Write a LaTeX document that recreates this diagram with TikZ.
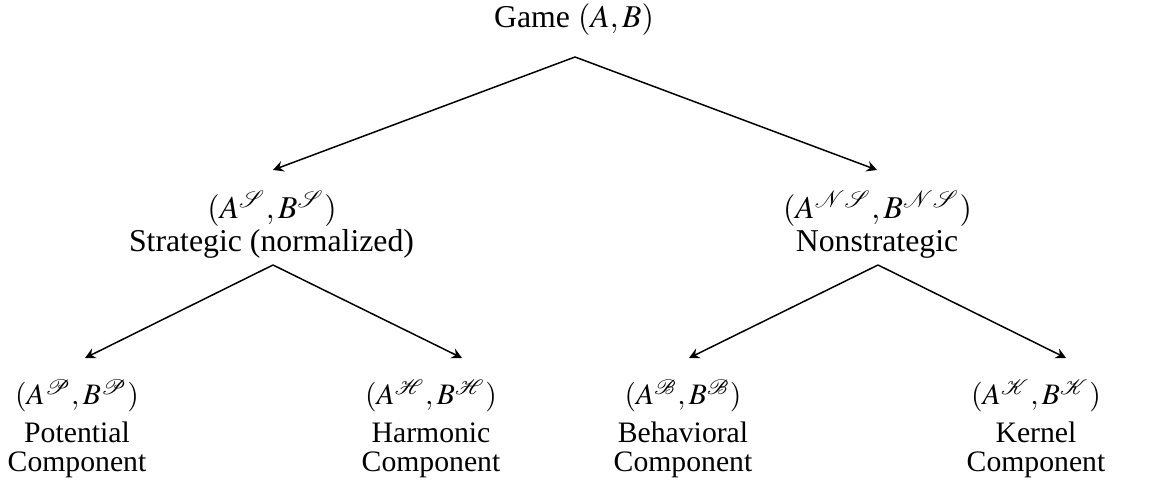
\documentclass[tikz,border=0pt]{standalone}
\usepackage{mathptmx}
\usepackage{mathrsfs}
\usepackage[no-math]{fontspec}
\setmainfont{Liberation Serif}
\usetikzlibrary{arrows.meta}
\tikzset{
  lbl/.style={anchor=base, inner sep=0pt, text height=0pt, text depth=0pt, font=\fontsize{10}{12}\selectfont},
  biglbl/.style={lbl, font=\fontsize{10.7}{12.8}\selectfont},
  conn/.style={-{Stealth[length=3.5pt,width=3.6pt,inset=1.2pt]}, line width=0.5pt}
}
\begin{document}
\begin{tikzpicture}[x=0.3367pt,y=-0.3367pt]
\useasboundingbox (0,0) rectangle (1149,495);
% root
\node[biglbl] (g) at (574,28) {Game $(A,B)$};
% middle level
\node[biglbl] (s1) at (272,219) {$(A^{\mathscr{S}},B^{\mathscr{S}})$};
\node[biglbl] (s2) at (271.5,252) {Strategic (normalized)};
\node[biglbl] (n1) at (877.5,219) {$(A^{\mathscr{N}\mathscr{S}},B^{\mathscr{N}\mathscr{S}})$};
\node[biglbl] (n2) at (877,252) {Nonstrategic};
% bottom level
\node[lbl] (p1) at (77,405) {$(A^{\mathscr{P}},B^{\mathscr{P}})$};
\node[lbl] (p2) at (77,443) {Potential};
\node[lbl] (p3) at (77,472) {Component};
\node[lbl] (h1) at (431,405) {$(A^{\mathscr{H}},B^{\mathscr{H}})$};
\node[lbl] (h2) at (431,443) {Harmonic};
\node[lbl] (h3) at (431,472) {Component};
\node[lbl] (b1) at (683,405) {$(A^{\mathscr{B}},B^{\mathscr{B}})$};
\node[lbl] (b2) at (683,443) {Behavioral};
\node[lbl] (b3) at (683,472) {Component};
\node[lbl] (k1) at (1036,405) {$(A^{\mathscr{K}},B^{\mathscr{K}})$};
\node[lbl] (k2) at (1036,443) {Kernel};
\node[lbl] (k3) at (1036,472) {Component};
% connectors
\draw[conn] ([shift={(1,29)}]g.base) -- ([shift={(1,-49)}]s1.base);
\draw[conn] ([shift={(1,29)}]g.base) -- ([shift={(-0.5,-49)}]n1.base);
\draw[conn] ([shift={(1.5,13)}]s2.base) -- ([shift={(8,-47)}]p1.base);
\draw[conn] ([shift={(1.5,13)}]s2.base) -- ([shift={(31,-47)}]h1.base);
\draw[conn] ([shift={(1,13)}]n2.base) -- ([shift={(6,-47)}]b1.base);
\draw[conn] ([shift={(1,13)}]n2.base) -- ([shift={(30,-47)}]k1.base);
\end{tikzpicture}
\end{document}
